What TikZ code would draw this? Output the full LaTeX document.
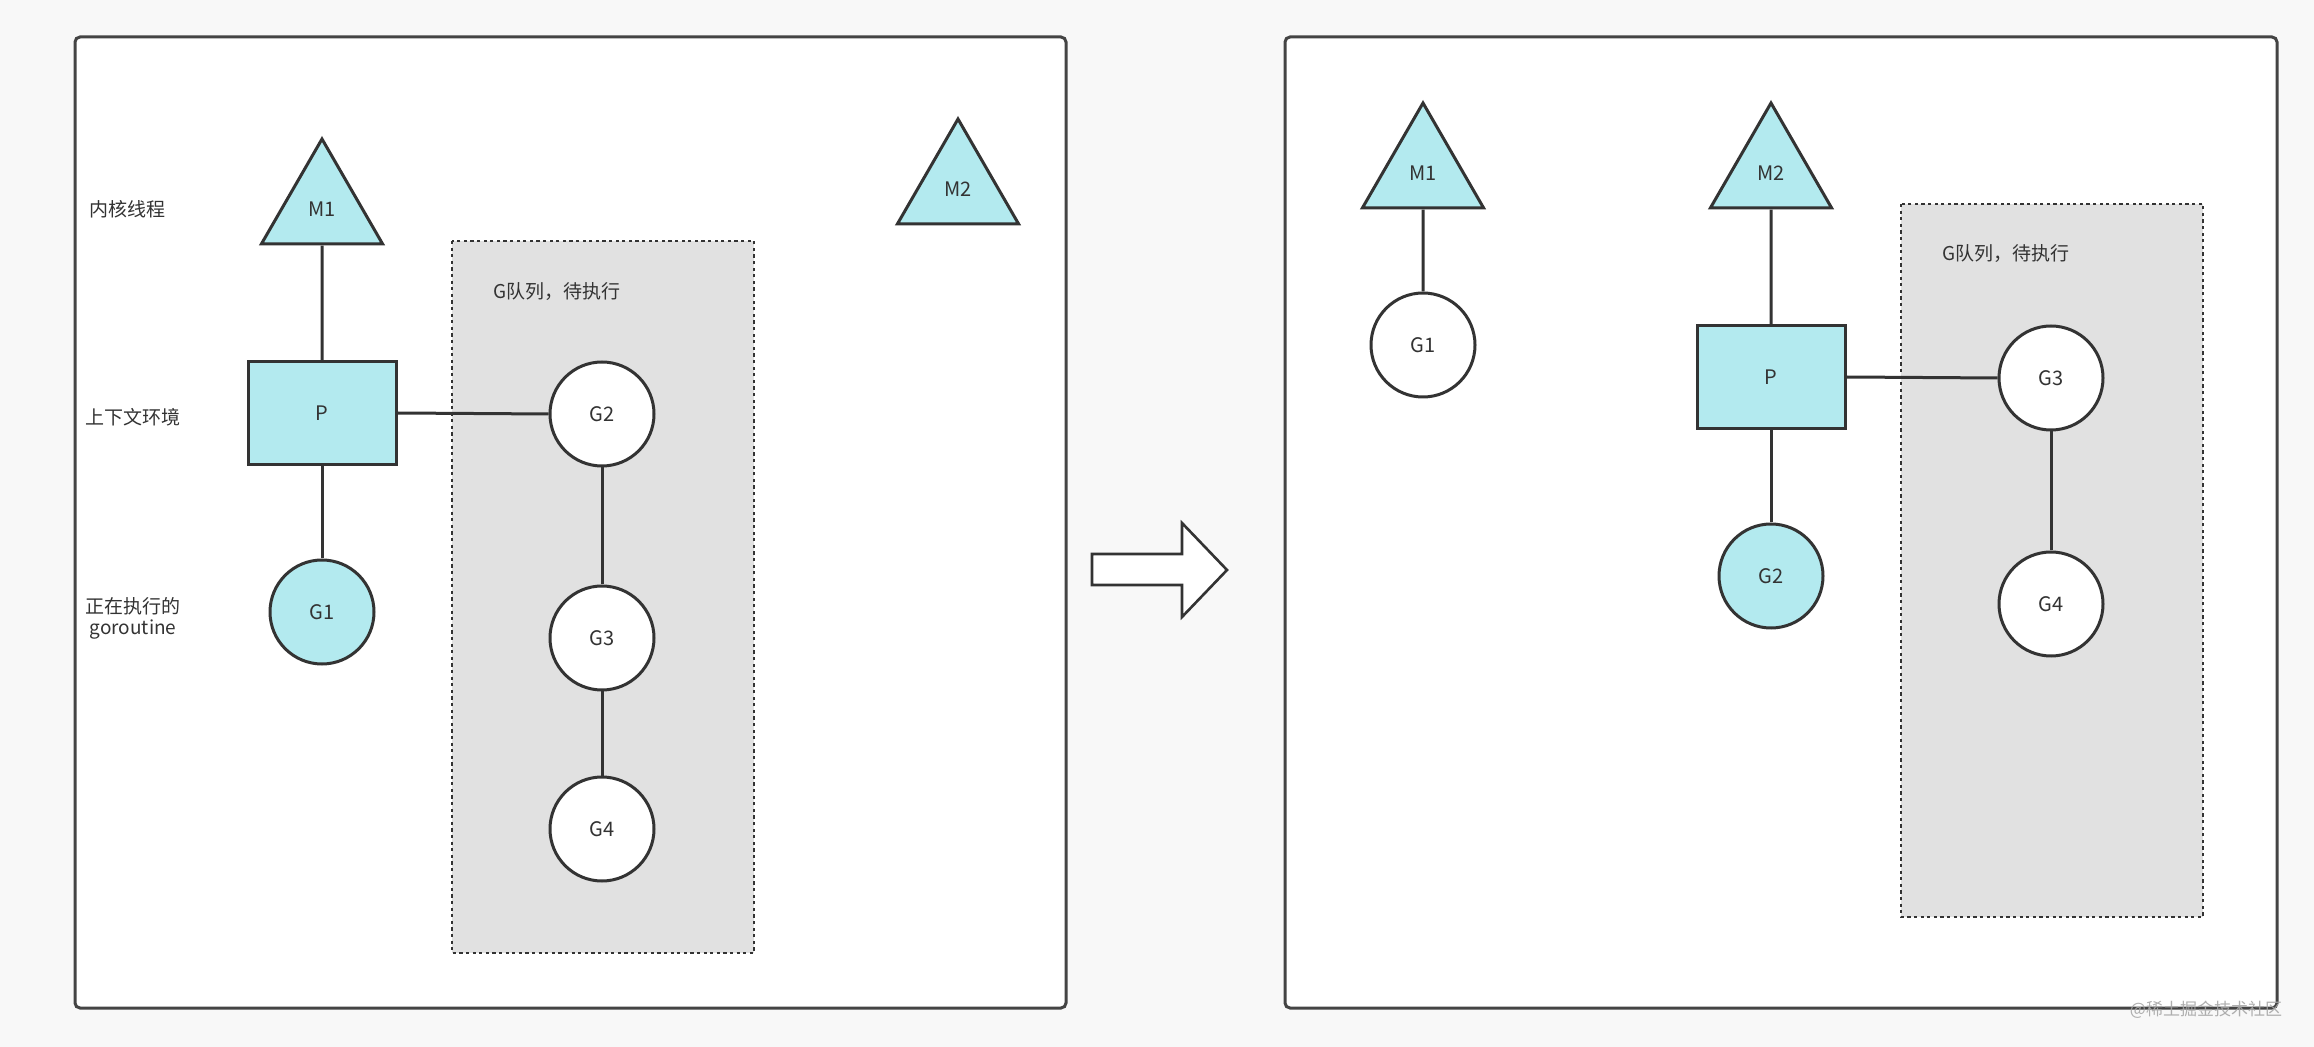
\documentclass[tikz,border=0pt]{standalone}
\usepackage{fontspec}
\setmainfont{Noto Sans CJK SC}
\usetikzlibrary{shapes.geometric}
\definecolor{bgc}{HTML}{F8F8F8}
\definecolor{teal}{HTML}{B3EAEF}
\definecolor{ink}{HTML}{333333}
\definecolor{queue}{HTML}{E1E1E1}
\definecolor{panelline}{HTML}{444444}
\tikzset{
  panel/.style={draw=panelline,line width=1.5pt,fill=white,rounded corners=2.5pt},
  queuebox/.style={draw=ink,line width=1.4pt,fill=queue,dash pattern=on 1.6pt off 1.7pt},
  tri/.style={regular polygon,regular polygon sides=3,minimum size=70pt,inner sep=0pt,draw=ink,line width=1.5pt,fill=teal,font=\fontsize{10}{12}\selectfont,text=ink},
  pbox/.style={rectangle,minimum width=74pt,minimum height=51.5pt,inner sep=0pt,draw=ink,line width=1.5pt,fill=teal,font=\fontsize{10}{12}\selectfont,text=ink},
  gnode/.style={circle,minimum size=52pt,inner sep=0pt,draw=ink,line width=1.5pt,fill=white,font=\fontsize{10}{12}\selectfont,text=ink},
  gact/.style={gnode,fill=teal},
  conn/.style={draw=ink,line width=1.5pt},
  lbl/.style={font=\fontsize{9.5}{12}\selectfont,text=ink,inner sep=0pt},
}
\begin{document}
\begin{tikzpicture}[x=0.5pt,y=-0.5pt]
\useasboundingbox[fill=bgc] (0,0) rectangle (2314,1047);
% panels
\path[panel] (75,37) rectangle (1066,1008);
\path[panel] (1285,37) rectangle (2277,1008);
% left queue box
\path[queuebox] (452,241) rectangle (754,953);
\node[lbl,anchor=west] (lq) at (493,292) {G队列，待执行};
% left nodes
\node[tri] (M1) at (322,209) {M1};
\node[tri] (M2) at (958,189) {M2};
\node[pbox] (P) at (322,413) {P};
\node[gact] (G1) at (322,612) {G1};
\node[gnode] (G2) at (602,414) {G2};
\node[gnode] (G3) at (602,638) {G3};
\node[gnode] (G4) at (602,829) {G4};
\draw[conn] (M1.south) -- (P.north);
\draw[conn] (P.south) -- (G1.north);
\draw[conn] (P.east) -- (G2.west);
\draw[conn] (G2.south) -- (G3.north);
\draw[conn] (G3.south) -- (G4.north);
% left labels
\node[lbl,anchor=west] (l1) at (89,209) {内核线程};
\node[lbl,anchor=west] (l2) at (85,417) {上下文环境};
\node[lbl,align=center] (l3) at (133,618) {正在执行的\\[-1.5pt]goroutine};
% big arrow
\draw[draw=ink,line width=1.3pt,fill=white,line join=miter]
  (1092,554) -- (1182,554) -- (1182,523) -- (1227,570) -- (1182,617) -- (1182,585) -- (1092,585) -- cycle;
% right queue box
\path[queuebox] (1901,204) rectangle (2203,917);
\node[lbl,anchor=west] (rq) at (1942,254) {G队列，待执行};
% right nodes
\node[tri] (RM1) at (1423,173) {M1};
\node[gnode] (RG1) at (1423,345) {G1};
\node[tri] (RM2) at (1771,173) {M2};
\node[pbox] (RP) at (1771,377) {P};
\node[gact] (RG2) at (1771,576) {G2};
\node[gnode] (RG3) at (2051,378) {G3};
\node[gnode] (RG4) at (2051,604) {G4};
\draw[conn] (RM1.south) -- (RG1.north);
\draw[conn] (RM2.south) -- (RP.north);
\draw[conn] (RP.south) -- (RG2.north);
\draw[conn] (RP.east) -- (RG3.west);
\draw[conn] (RG3.south) -- (RG4.north);
% watermark
\node[font=\fontsize{8.5}{10}\selectfont,text=black!35,opacity=0.9,inner sep=0pt] (wm) at (2206,1010) {@稀土掘金技术社区};
\end{tikzpicture}
\end{document}
